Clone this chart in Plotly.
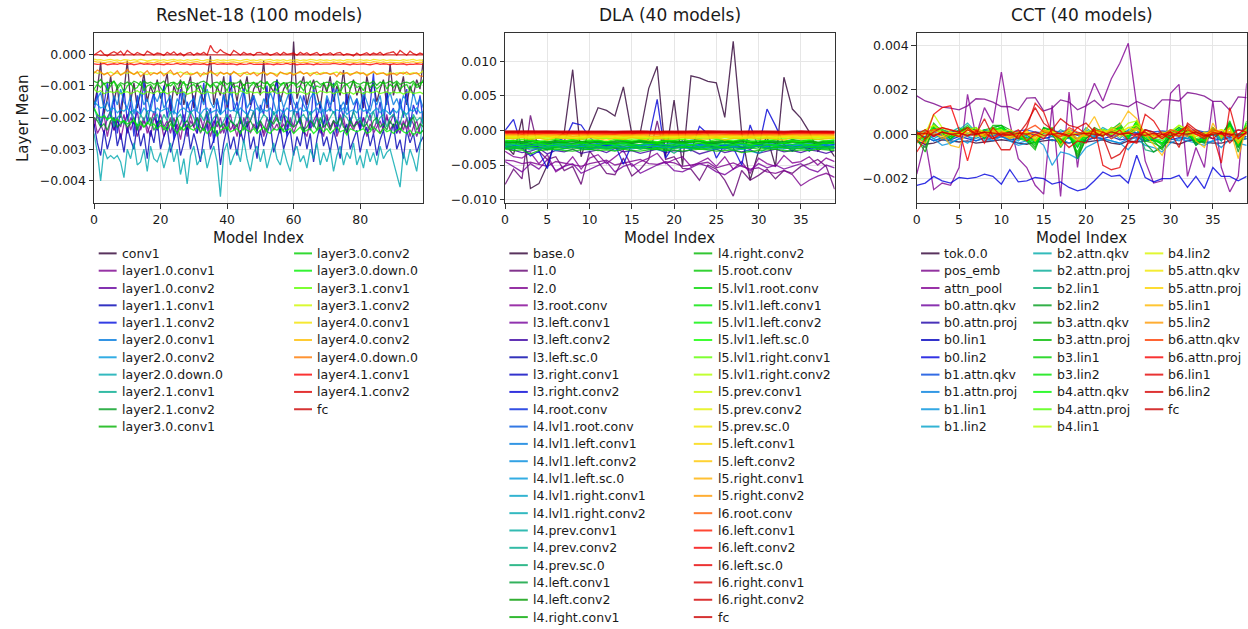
import plotly.graph_objects as go

SCALE = 1e-5  # all values below are in units of 1e-5

# ---------------- ResNet-18 (100 models) ----------------
resnet_names = ["conv1", "layer1.0.conv1", "layer1.0.conv2", "layer1.1.conv1", "layer1.1.conv2",
                "layer2.0.conv1", "layer2.0.conv2", "layer2.0.down.0", "layer2.1.conv1", "layer2.1.conv2",
                "layer3.0.conv1", "layer3.0.conv2", "layer3.0.down.0", "layer3.1.conv1", "layer3.1.conv2",
                "layer4.0.conv1", "layer4.0.conv2", "layer4.0.down.0", "layer4.1.conv1", "layer4.1.conv2", "fc"]

r_conv1 = [-160,-110,-25,-190,-140,-70,-150,-100,-200,-120,
           -20,-150,-90,-170,-120,-60,-150,-100,-130,-80,
           -140,-110,-60,-180,-100,-130,-80,-160,-110,-70,
           -170,-90,-120,-150,-80,-5,-160,-100,-130,-70,
           -170,-110,-90,-150,-80,-120,-70,-160,-110,-90,
           -130,-20,-170,-100,-120,-80,-150,-110,-90,-160,
           40,-140,-100,-70,-160,-110,-80,-130,-170,-90,
           -120,-70,-150,-100,-130,-50,-160,-110,-80,-130,
           -100,-170,-70,-120,-90,-150,-110,-80,-160,-30,
           -130,-90,-120,-70,-160,-100,-130,-80,-110,-15]
r_l1_0_c1 = [-200,-250,-230,-190,-260,-210,-240,-200,-270,-220,
             -190,-240,-210,-260,-230,-200,-250,-220,-180,-240,
             -210,-260,-230,-200,-250,-220,-270,-210,-240,-190,
             -230,-250,-200,-240,-210,-260,-220,-190,-250,-230,
             -200,-240,-220,-260,-210,-230,-190,-250,-220,-240,
             -210,-260,-230,-200,-240,-220,-250,-190,-230,-210,
             -250,-220,-200,-240,-260,-210,-230,-200,-250,-220,
             -190,-240,-210,-260,-230,-200,-250,-220,-240,-210,
             -230,-200,-260,-220,-240,-210,-250,-230,-190,-240,
             -220,-250,-210,-240,-200,-260,-230,-210,-250,-240]
r_l1_0_c2 = [-230,-190,-220,-250,-200,-180,-240,-210,-230,-190,
             -250,-200,-220,-180,-240,-210,-230,-260,-200,-220,
             -190,-230,-210,-250,-200,-240,-220,-190,-260,-210,
             -230,-200,-250,-220,-180,-240,-210,-230,-200,-250,
             -210,-190,-240,-220,-260,-200,-230,-210,-180,-240,
             -220,-250,-200,-230,-210,-190,-240,-220,-250,-200,
             -230,-180,-220,-250,-200,-240,-210,-190,-230,-260,
             -200,-230,-210,-240,-190,-220,-250,-200,-230,-210,
             -240,-200,-220,-190,-250,-230,-210,-240,-200,-220,
             -190,-230,-250,-210,-240,-200,-220,-260,-230,-180]
r_l1_1_c1 = [-220,-280,-320,-240,-300,-260,-200,-290,-250,-310,
             -230,-270,-300,-220,-290,-250,-330,-240,-280,-210,
             -300,-260,-230,-310,-270,-240,-320,-280,-220,-300,
             -250,-290,-340,-260,-220,-300,-270,-240,-350,-280,
             -230,-300,-260,-320,-240,-280,-210,-300,-260,-330,
             -240,-290,-250,-220,-310,-270,-230,-300,-260,-240,
             -320,-260,-290,-230,-300,-250,-340,-270,-220,-290,
             -260,-310,-240,-280,-330,-250,-220,-300,-270,-240,
             -310,-260,-230,-290,-250,-320,-270,-240,-300,-260,
             -220,-300,-270,-330,-240,-280,-250,-310,-280,-260]
r_l1_1_c2 = [-180,-120,-230,-160,-90,-200,-140,-250,-170,-110,
             -210,-150,-260,-130,-190,-80,-220,-160,-120,-240,
             -170,-100,-200,-140,-270,-180,-110,-230,-150,-190,
             -130,-250,-160,-90,-210,-170,-280,-140,-190,-120,
             -230,-60,-180,-150,-220,-110,-200,-170,-130,-250,
             -160,-190,-100,-230,-140,-80,-210,-170,-260,-120,
             -190,-150,-220,-130,-170,-240,-100,-200,-160,-230,
             -140,-180,-90,-250,-160,-200,-120,-220,-180,-140,
             -240,-130,-190,-160,-60,-210,-150,-230,-120,-190,
             -170,-250,-140,-200,-110,-230,-160,-190,-130,-220]
r_l2_0_c1 = [-160,-140,-120,-170,-150,-180,-130,-160,-110,-150,
             -170,-130,-190,-150,-120,-160,-140,-180,-130,-150,
             -120,-170,-150,-130,-190,-140,-160,-120,-170,-150,
             -140,-180,-130,-160,-110,-150,-170,-140,-190,-130,
             -160,-120,-150,-180,-140,-110,-170,-150,-130,-160,
             -180,-140,-160,-120,-150,-190,-130,-170,-140,-110,
             -150,-170,-130,-160,-180,-140,-120,-160,-150,-190,
             -130,-160,-140,-110,-170,-150,-180,-130,-160,-140,
             -170,-120,-150,-180,-140,-160,-130,-190,-150,-120,
             -160,-140,-170,-130,-150,-180,-120,-160,-140,-170]
r_l2_0_c2 = [-150,-160,-170,-165,-180,-175,-170,-185,-175,-180,
             -170,-185,-175,-180,-190,-170,-180,-175,-185,-170,
             -180,-175,-170,-185,-180,-190,-175,-170,-180,-185,
             -175,-180,-190,-175,-170,-185,-180,-175,-190,-180,
             -170,-180,-175,-185,-170,-180,-190,-175,-180,-170,
             -185,-175,-180,-170,-190,-180,-175,-185,-170,-180,
             -175,-185,-170,-180,-175,-190,-180,-170,-185,-175,
             -180,-170,-185,-175,-180,-170,-190,-180,-175,-185,
             -170,-180,-175,-190,-180,-170,-185,-175,-180,-190,
             -175,-185,-170,-180,-190,-175,-180,-170,-185,-180]
r_l2_0_d0 = [-250,-310,-400,-300,-330,-320,-330,-320,-340,-390,
             -300,-330,-280,-350,-340,-300,-370,-290,-330,-340,
             -310,-360,-320,-280,-340,-300,-380,-330,-410,-320,
             -290,-350,-330,-300,-360,-320,-290,-340,-450,-310,
             -280,-350,-320,-300,-340,-270,-330,-370,-310,-290,
             -340,-300,-360,-320,-280,-330,-350,-300,-340,-370,
             -310,-290,-340,-320,-360,-300,-330,-280,-350,-310,
             -340,-300,-370,-320,-290,-350,-310,-330,-280,-350,
             -320,-360,-300,-340,-310,-350,-290,-330,-310,-300,
             -340,-380,-420,-310,-350,-300,-330,-370,-290,-180]
r_l2_1_c1 = [-170,-200,-220,-190,-210,-180,-230,-200,-190,-220,
             -210,-180,-200,-230,-190,-210,-180,-220,-200,-190,
             -220,-190,-210,-180,-230,-200,-190,-220,-210,-180,
             -200,-230,-190,-210,-180,-220,-200,-190,-230,-210,
             -190,-210,-220,-180,-200,-230,-190,-210,-180,-220,
             -210,-190,-200,-230,-180,-210,-220,-190,-200,-230,
             -180,-220,-200,-190,-210,-180,-230,-200,-220,-190,
             -220,-200,-180,-210,-230,-190,-200,-220,-180,-210,
             -200,-230,-190,-210,-180,-220,-200,-190,-230,-200,
             -190,-210,-220,-180,-200,-230,-190,-210,-200,-220]
r_l2_1_c2 = [-200,-210,-230,-220,-240,-210,-200,-230,-220,-210,
             -230,-220,-200,-240,-210,-230,-220,-200,-240,-220,
             -210,-240,-220,-210,-230,-200,-240,-220,-210,-230,
             -220,-200,-230,-240,-210,-220,-250,-210,-230,-220,
             -240,-210,-220,-230,-200,-240,-220,-210,-230,-240,
             -210,-230,-240,-210,-220,-200,-230,-240,-210,-220,
             -230,-220,-200,-240,-230,-210,-220,-240,-200,-230,
             -220,-240,-210,-220,-200,-230,-240,-210,-230,-220,
             -210,-230,-220,-240,-210,-200,-230,-220,-240,-210,
             -230,-210,-240,-220,-230,-210,-200,-240,-220,-230]
r_l3_0_c1 = [-85,-90,-80,-95,-88,-92,-85,-100,-90,-95,
             -88,-95,-85,-90,-98,-85,-92,-88,-95,-90,
             -92,-85,-100,-90,-88,-95,-85,-92,-98,-88,
             -90,-95,-88,-85,-92,-100,-90,-88,-95,-85,
             -95,-88,-92,-90,-85,-98,-90,-92,-88,-95,
             -85,-92,-90,-98,-88,-85,-95,-90,-92,-88,
             -90,-95,-85,-92,-88,-100,-90,-85,-95,-92,
             -88,-90,-98,-85,-92,-90,-95,-88,-85,-92,
             -95,-88,-90,-92,-85,-98,-88,-92,-90,-85,
             -92,-85,-95,-90,-88,-92,-85,-98,-90,-88]
r_l3_0_c2 = [-110,-95,-105,-90,-115,-100,-85,-110,-95,-120,
             -100,-90,-110,-105,-85,-115,-100,-95,-110,-90,
             -105,-120,-95,-100,-90,-110,-105,-85,-115,-100,
             -95,-110,-100,-120,-90,-105,-95,-110,-85,-100,
             -115,-90,-105,-100,-110,-95,-120,-100,-90,-105,
             -100,-110,-85,-105,-95,-115,-100,-90,-110,-95,
             -90,-105,-100,-115,-95,-85,-110,-100,-105,-90,
             -110,-95,-105,-90,-120,-100,-95,-110,-85,-105,
             -100,-115,-90,-105,-95,-110,-100,-85,-110,-95,
             -105,-90,-110,-100,-95,-115,-90,-105,-100,-80]
r_l3_0_d0 = [-170,-190,-200,-195,-205,-200,-210,-205,-215,-210,
             -220,-215,-210,-225,-220,-230,-215,-225,-220,-235,
             -225,-230,-240,-220,-235,-250,-230,-240,-225,-235,
             -240,-230,-245,-235,-250,-240,-230,-260,-240,-235,
             -230,-245,-240,-235,-250,-230,-240,-245,-235,-250,
             -240,-230,-245,-250,-235,-240,-230,-245,-240,-235,
             -250,-240,-230,-245,-240,-235,-250,-240,-230,-245,
             -235,-250,-240,-230,-245,-240,-255,-235,-240,-245,
             -240,-235,-250,-245,-230,-240,-250,-235,-245,-240,
             -250,-240,-235,-245,-250,-240,-255,-245,-250,-240]
r_l3_1_c1 = [-110,-120,-115,-125,-120,-118,-122,-115,-125,-120,
             -118,-124,-120,-115,-122,-126,-118,-120,-124,-116,
             -122,-118,-125,-120,-116,-124,-120,-118,-126,-122,
             -120,-115,-122,-125,-118,-120,-124,-116,-120,-125,
             -118,-122,-120,-126,-115,-120,-124,-118,-122,-120,
             -125,-118,-122,-120,-116,-124,-120,-118,-125,-122,
             -120,-124,-118,-122,-126,-118,-120,-124,-116,-120,
             -122,-118,-125,-120,-118,-124,-122,-120,-126,-118,
             -120,-125,-118,-122,-120,-116,-124,-122,-118,-125,
             -118,-122,-120,-126,-120,-118,-124,-122,-120,-125]
r_l3_1_c2 = [-55,-60,-58,-63,-60,-56,-62,-59,-64,-58,
             -60,-57,-63,-59,-55,-61,-64,-58,-60,-62,
             -57,-62,-60,-58,-64,-59,-56,-61,-63,-60,
             -62,-58,-61,-65,-59,-57,-62,-60,-58,-63,
             -59,-63,-57,-60,-62,-58,-64,-61,-57,-60,
             -61,-58,-63,-59,-60,-64,-57,-62,-60,-58,
             -63,-60,-57,-62,-59,-61,-58,-64,-60,-57,
             -60,-62,-59,-56,-63,-60,-58,-62,-61,-59,
             -58,-61,-64,-60,-57,-62,-59,-60,-63,-58,
             -62,-59,-60,-57,-63,-61,-58,-62,-60,-52]
r_l4_0_c1 = [-15,-18,-17,-20,-18,-16,-19,-18,-21,-17,
             -18,-20,-17,-19,-16,-18,-21,-19,-17,-18,
             -19,-17,-20,-18,-16,-19,-18,-21,-17,-19,
             -18,-16,-19,-20,-17,-18,-20,-17,-19,-18,
             -20,-18,-17,-19,-21,-18,-16,-19,-18,-20,
             -17,-19,-18,-16,-20,-18,-19,-17,-21,-18,
             -19,-17,-20,-18,-19,-16,-18,-20,-17,-19,
             -18,-20,-17,-19,-18,-21,-17,-18,-20,-19,
             -17,-19,-18,-20,-16,-18,-19,-17,-20,-18,
             -19,-18,-20,-17,-19,-18,-16,-20,-18,-19]
r_l4_0_c2 = [-22,-25,-24,-27,-25,-23,-26,-24,-28,-25,
             -24,-27,-25,-23,-26,-28,-24,-25,-27,-23,
             -26,-24,-27,-25,-22,-26,-25,-28,-24,-26,
             -25,-23,-26,-28,-24,-25,-27,-24,-26,-25,
             -27,-25,-24,-26,-28,-25,-23,-26,-25,-27,
             -24,-26,-25,-23,-27,-25,-26,-24,-28,-25,
             -26,-24,-27,-25,-26,-23,-25,-27,-24,-26,
             -25,-27,-24,-26,-25,-28,-24,-25,-27,-26,
             -24,-26,-25,-27,-23,-25,-26,-24,-27,-25,
             -26,-25,-27,-24,-26,-25,-23,-27,-25,-26]
r_l4_0_d0 = [-60,-50,-55,-65,-58,-70,-62,-52,-66,-60,
             -48,-58,-64,-55,-70,-60,-52,-66,-58,-62,
             -55,-68,-60,-50,-64,-58,-72,-60,-55,-66,
             -62,-56,-70,-58,-64,-52,-60,-68,-56,-62,
             -58,-66,-54,-62,-70,-60,-56,-64,-58,-68,
             -60,-55,-66,-58,-62,-70,-56,-60,-64,-58,
             -66,-60,-54,-62,-58,-68,-60,-56,-64,-60,
             -58,-64,-60,-70,-56,-62,-58,-66,-60,-55,
             -62,-58,-68,-60,-54,-64,-60,-58,-66,-62,
             -60,-66,-58,-62,-56,-64,-60,-58,-68,-70]
r_l4_1_c1 = [-30,-32,-31,-29,-33,-31,-30,-32,-29,-31,
             -32,-30,-33,-31,-29,-32,-30,-31,-33,-30,
             -31,-33,-30,-32,-31,-29,-32,-30,-31,-33,
             -30,-31,-32,-30,-33,-31,-29,-32,-31,-30,
             -32,-30,-31,-33,-30,-32,-31,-29,-32,-31,
             -31,-32,-30,-31,-33,-30,-32,-31,-29,-32,
             -30,-33,-31,-32,-30,-31,-33,-30,-32,-31,
             -32,-31,-29,-31,-32,-30,-31,-33,-30,-32,
             -31,-30,-32,-33,-31,-29,-32,-30,-31,-33,
             -30,-32,-31,-30,-33,-31,-32,-30,-31,-32]
r_l4_1_c2 = [-2,5,12,0,-5,3,8,2,10,-3,
             12,4,-2,6,0,-4,10,5,-2,4,
             2,-4,6,0,8,-2,4,-5,3,6,
             -3,4,0,6,-2,28,10,4,15,6,
             2,-3,12,4,-2,6,0,3,-4,5,
             6,0,4,-3,2,5,-2,6,0,3,
             4,-3,6,0,5,-2,3,6,-4,2,
             0,5,-2,4,6,-3,2,0,-5,4,
             -3,2,5,-2,4,0,6,-2,3,5,
             8,-2,12,4,-3,10,2,-2,4,0]
r_fc = [-2,-1,-3,-2,-1,-2,-3,-1,-2,-2,
        -1,-3,-2,-2,-1,-3,-2,-1,-2,-3,
        -2,-1,-2,-3,-1,-2,-2,-3,-1,-2,
        -3,-2,-1,-2,-3,-2,-1,-2,-2,-1,
        -2,-3,-1,-2,-2,-1,-3,-2,-1,-2,
        -1,-2,-3,-1,-2,-3,-2,-1,-2,-2,
        -3,-1,-2,-2,-3,-1,-2,-3,-2,-1,
        -2,-2,-1,-3,-2,-1,-2,-2,-3,-1,
        -1,-3,-2,-1,-2,-2,-3,-1,-2,-3,
        -2,-1,-3,-2,-1,-2,-2,-1,-3,-2]
resnet_series = [r_conv1, r_l1_0_c1, r_l1_0_c2, r_l1_1_c1, r_l1_1_c2, r_l2_0_c1, r_l2_0_c2, r_l2_0_d0,
                 r_l2_1_c1, r_l2_1_c2, r_l3_0_c1, r_l3_0_c2, r_l3_0_d0, r_l3_1_c1, r_l3_1_c2,
                 r_l4_0_c1, r_l4_0_c2, r_l4_0_d0, r_l4_1_c1, r_l4_1_c2, r_fc]

# ---------------- DLA (40 models) ----------------
dla_names = ["base.0", "l1.0", "l2.0", "l3.root.conv", "l3.left.conv1", "l3.left.conv2", "l3.left.sc.0",
             "l3.right.conv1", "l3.right.conv2", "l4.root.conv", "l4.lvl1.root.conv", "l4.lvl1.left.conv1",
             "l4.lvl1.left.conv2", "l4.lvl1.left.sc.0", "l4.lvl1.right.conv1", "l4.lvl1.right.conv2",
             "l4.prev.conv1", "l4.prev.conv2", "l4.prev.sc.0", "l4.left.conv1", "l4.left.conv2",
             "l4.right.conv1", "l4.right.conv2", "l5.root.conv", "l5.lvl1.root.conv", "l5.lvl1.left.conv1",
             "l5.lvl1.left.conv2", "l5.lvl1.left.sc.0", "l5.lvl1.right.conv1", "l5.lvl1.right.conv2",
             "l5.prev.conv1", "l5.prev.conv2", "l5.prev.sc.0", "l5.left.conv1", "l5.left.conv2",
             "l5.right.conv1", "l5.right.conv2", "l6.root.conv", "l6.left.conv1", "l6.left.conv2",
             "l6.left.sc.0", "l6.right.conv1", "l6.right.conv2", "fc"]

d_base0 = [-200,-350,170,-840,-770,-500,-120,-30,880,-380, 30,330,290,210,630,-50,-30,610,930,-370,
           440,-510,790,760,710,690,190,1290,-40,-720, -300,-90,-520,770,310,180,-20,-300,-200,-380]
d_l1_0 = [-780,-560,-700,220,-300,-420,-380,-580,-520,-780, -300,-450,-620,-640,-400,-660,-560,-420,140,-420,
          -380,-550,-560,-720,-500,-560,-720,-950,-580,-720, -650,-560,-700,-580,-620,-520,-480,-420,-520,-850]
d_l2_0 = [-430,-440,-480,-460,-490,-520,-450,-470,-500,-520, -480,-460,-430,-500,-470,-450,-420,-480,-490,-450,
          -470,-520,-500,-480,-460,-540,-500,-470,-520,-560, -540,-600,-620,-580,-640,-800,-720,-660,-620,-680]
d_l3_root = [-300,-380,-400,-320,-480,-350,-600,-520,-380,-560, -400,-350,-480,-380,-290,-520,-450,-400,-330,-480,
             -420,-380,-520,-460,-400,-520,-380,-560,-450,-620, -400,-480,-520,-360,-470,-450,-380,-500,-400,-450]
d_l3_left_c1 = [-450,-520,-600,-480,-560,-420,-580,-520,-480,-620, -560,-500,-450,-600,-520,-480,-620,-560,-500,-460,
                -580,-600,-540,-480,-520,-600,-640,-560,-500,-580, -480,-540,-500,-560,-520,-480,-560,-600,-500,-540]
d_l3_left_c2 = [-250,-280,-320,-300,-260,-340,-290,-310,-270,-330, -300,-280,-320,-260,-310,-290,-330,-300,-270,-320,
                -290,-310,-280,-340,-300,-270,-320,-290,-310,-280, -330,-300,-270,-310,-290,-320,-280,-300,-330,-290]
d_l3_left_sc0 = [-220,-240,-260,-230,-250,-270,-240,-220,-250,-230, -260,-240,-220,-250,-270,-230,-240,-260,-220,-250,
                 -240,-230,-260,-250,-220,-240,-270,-230,-250,-240, -220,-260,-240,-230,-250,-220,-260,-240,-230,-250]
d_l3_right_c1 = [-180,-220,-250,-200,-240,-280,-210,-190,-230,-260, -200,-240,-220,-190,-260,-230,-210,-250,-190,-220,
                 -240,-200,-260,-230,-210,-250,-220,-190,-240,-270, -210,-230,-200,-250,-220,-240,-260,-210,-230,-200]
d_l3_right_c2 = [0,160,-250,-370,-300,-550,-100,-150,110,80, -100,-200,-200,-200,-490,-200,-250,-120,450,-400,
                 -200,-150,-300,60,-50,-400,-200,-250,-500,80, -250,310,70,-200,-300,-200,-300,-200,-200,-250]
d_l4_root = [-200,-180,-220,-210,-190,-230,-200,-180,-210,-220, -190,-200,-230,-210,-180,-220,-200,-190,-210,-230,
             -200,-180,-220,-210,-190,-200,-230,-210,-180,-220, -200,-210,-190,-230,-200,-180,-220,-210,-190,-200]
d_l4_lvl1_root = [-210,-230,-200,-220,-240,-210,-190,-230,-220,-200, -240,-210,-220,-200,-230,-210,-240,-200,-220,-210,
                  -230,-200,-240,-210,-220,-230,-200,-210,-240,-220, -200,-230,-210,-220,-240,-200,-210,-230,-220,-210]
d_l4_lvl1_left_c1 = [-230,-250,-220,-240,-260,-230,-210,-250,-240,-220, -260,-230,-240,-220,-250,-230,-260,-220,-240,-230,
                     -250,-220,-260,-230,-240,-250,-220,-230,-260,-240, -220,-250,-230,-240,-260,-220,-230,-250,-240,-230]
d_l4_lvl1_left_c2 = [-190,-210,-200,-180,-220,-200,-190,-210,-180,-200, -220,-190,-200,-210,-180,-200,-220,-190,-210,-200,
                     -180,-210,-190,-220,-200,-180,-210,-200,-190,-220, -200,-180,-210,-190,-200,-220,-190,-210,-200,-180]
d_l4_lvl1_left_sc0 = [-240,-260,-230,-250,-270,-240,-220,-260,-250,-230, -270,-240,-250,-230,-260,-240,-270,-230,-250,-240,
                      -260,-230,-270,-240,-250,-260,-230,-240,-270,-250, -230,-260,-240,-250,-270,-230,-240,-260,-250,-240]
d_l4_lvl1_right_c1 = [-220,-200,-240,-230,-210,-250,-220,-200,-230,-240, -210,-220,-250,-230,-200,-240,-220,-210,-230,-250,
                      -220,-200,-240,-230,-210,-220,-250,-230,-200,-240, -220,-230,-210,-250,-220,-200,-240,-230,-210,-220]
d_l4_lvl1_right_c2 = [-250,-270,-240,-280,-260,-250,-290,-260,-240,-270, -280,-250,-260,-290,-250,-270,-240,-260,-280,-300,
                      -260,-250,-270,-240,-280,-260,-250,-290,-270,-300, -330,-260,-250,-270,-240,-260,-280,-250,-270,-260]
d_l4_prev_c1 = [-190,-170,-200,-180,-210,-190,-170,-200,-190,-180, -210,-190,-170,-200,-180,-190,-210,-170,-190,-200,
                -180,-170,-210,-190,-200,-180,-170,-190,-210,-200, -180,-190,-170,-200,-210,-180,-190,-200,-170,-190]
d_l4_prev_c2 = [-170,-160,-180,-150,-170,-190,-160,-170,-150,-180, -170,-160,-190,-170,-150,-180,-160,-170,-190,-150,
                -170,-180,-160,-150,-190,-170,-160,-180,-150,-170, -190,-160,-170,-180,-150,-170,-160,-190,-170,-160]
d_l4_prev_sc0 = [-240,-260,-250,-230,-270,-250,-240,-260,-230,-250, -270,-240,-260,-250,-230,-260,-240,-270,-250,-260,
                 -330,-250,-240,-260,-230,-270,-250,-240,-260,-250, -230,-260,-250,-240,-270,-250,-230,-260,-240,-250]
d_l4_left_c1 = [-160,-150,-170,-140,-160,-180,-150,-160,-140,-170, -160,-150,-180,-160,-140,-170,-150,-160,-180,-140,
                -160,-170,-150,-140,-180,-160,-150,-170,-140,-160, -180,-150,-160,-170,-140,-160,-150,-180,-160,-150]
d_l4_left_c2 = [-180,-170,-190,-160,-180,-200,-170,-180,-160,-190, -180,-170,-200,-180,-160,-190,-170,-180,-200,-160,
                -180,-190,-170,-160,-200,-180,-170,-190,-160,-180, -200,-170,-180,-190,-160,-180,-170,-200,-180,-170]
d_l4_right_c1 = [-150,-140,-160,-130,-150,-170,-140,-150,-130,-160, -150,-140,-170,-150,-130,-160,-140,-150,-170,-130,
                 -150,-160,-140,-130,-170,-150,-140,-160,-130,-150, -170,-140,-150,-160,-130,-150,-140,-170,-150,-140]
d_l4_right_c2 = [-170,-180,-160,-190,-170,-160,-180,-170,-190,-160, -180,-170,-160,-190,-180,-170,-160,-180,-190,-170,
                 -160,-180,-170,-190,-160,-180,-170,-160,-190,-180, -170,-160,-180,-190,-170,-180,-160,-170,-190,-180]
d_l5_root = [-270,-290,-280,-340,-290,-280,-270,-290,-300,-280, -270,-290,-280,-300,-270,-290,-300,-280,-270,-290,
             -280,-300,-290,-270,-280,-300,-290,-280,-320,-300, -290,-280,-270,-290,-300,-280,-290,-270,-280,-290]
d_l5_lvl1_root = [-260,-250,-270,-260,-240,-270,-250,-260,-270,-250, -240,-260,-270,-250,-260,-240,-270,-260,-250,-270,
                  -260,-240,-250,-270,-260,-250,-240,-270,-260,-250, -270,-260,-240,-250,-270,-260,-250,-240,-260,-270]
d_l5_lvl1_left_c1 = [-220,-230,-240,-220,-210,-240,-230,-220,-240,-210, -230,-220,-240,-230,-210,-220,-240,-230,-210,-240,
                     -220,-230,-210,-240,-220,-230,-240,-210,-230,-220, -240,-210,-230,-220,-240,-230,-210,-220,-240,-230]
d_l5_lvl1_left_c2 = [-200,-190,-210,-200,-180,-210,-200,-190,-210,-180, -200,-210,-190,-200,-180,-210,-200,-190,-180,-210,
                     -200,-190,-210,-180,-200,-210,-190,-200,-180,-210, -190,-200,-210,-180,-200,-190,-210,-200,-180,-190]
d_l5_lvl1_left_sc0 = [-140,-150,-130,-140,-160,-140,-130,-150,-140,-130, -150,-140,-160,-130,-140,-150,-130,-140,-160,-150,
                      -140,-130,-150,-140,-160,-130,-140,-150,-130,-160, -140,-150,-130,-140,-150,-160,-140,-130,-150,-140]
d_l5_lvl1_right_c1 = [-120,-110,-130,-120,-110,-130,-120,-110,-125,-115, -130,-120,-110,-125,-120,-130,-110,-120,-125,-115,
                      -120,-130,-110,-120,-125,-115,-130,-120,-110,-125, -120,-115,-130,-120,-110,-125,-120,-130,-115,-120]
d_l5_lvl1_right_c2 = [-105,-110,-100,-115,-105,-110,-100,-110,-115,-105, -100,-110,-105,-115,-110,-100,-105,-115,-110,-100,
                      -110,-105,-115,-100,-110,-105,-100,-115,-110,-105, -115,-100,-110,-105,-115,-110,-100,-105,-110,-115]
d_l5_prev_c1 = [-100,-95,-105,-100,-90,-105,-100,-95,-110,-100, -95,-105,-100,-90,-105,-100,-95,-105,-110,-100,
                -95,-100,-105,-90,-100,-105,-95,-100,-110,-105, -100,-95,-105,-100,-90,-105,-100,-95,-105,-100]
d_l5_prev_c2 = [-90,-95,-100,-90,-95,-85,-100,-95,-90,-100, -95,-90,-85,-100,-95,-90,-100,-95,-85,-90,
                -100,-95,-90,-85,-100,-95,-90,-100,-95,-85, -90,-100,-95,-90,-85,-100,-95,-90,-100,-95]
d_l5_prev_sc0 = [-85,-90,-80,-95,-85,-90,-80,-85,-95,-90, -80,-85,-90,-95,-85,-80,-90,-85,-95,-80,
                 -85,-90,-80,-95,-85,-90,-85,-80,-95,-90, -85,-80,-90,-95,-85,-90,-80,-85,-90,-95]
d_l5_left_c1 = [-80,-75,-85,-80,-70,-85,-80,-75,-90,-80, -75,-85,-80,-70,-85,-80,-75,-85,-90,-80,
                -75,-80,-85,-70,-80,-85,-75,-80,-90,-85, -80,-75,-85,-80,-70,-85,-80,-75,-85,-80]
d_l5_left_c2 = [-110,-120,-100,-130,-110,-140,-100,-120,-110,-130, -100,-120,-140,-110,-130,-100,-120,-140,-110,-130,
                -120,-100,-110,-130,-120,-100,-140,-110,-120,-100, -130,-110,-120,-140,-100,-120,-110,-130,-120,-110]
d_l5_right_c1 = [-70,-65,-75,-70,-60,-75,-70,-65,-80,-70, -65,-75,-70,-60,-75,-70,-65,-75,-80,-70,
                 -65,-70,-75,-60,-70,-75,-65,-70,-80,-75, -70,-65,-75,-70,-60,-75,-70,-65,-75,-70]
d_l5_right_c2 = [-60,-58,-63,-57,-62,-55,-60,-64,-58,-61, -63,-56,-60,-65,-58,-62,-55,-60,-64,-58,
                 -60,-65,-57,-62,-56,-60,-63,-58,-65,-60, -56,-62,-60,-65,-58,-55,-62,-60,-57,-63]
d_l6_root = [-50,-45,-55,-48,-52,-45,-50,-55,-47,-50, -53,-46,-50,-55,-48,-52,-45,-50,-54,-48,
             -50,-55,-47,-52,-45,-50,-53,-48,-55,-50, -46,-52,-50,-55,-48,-45,-52,-50,-47,-53]
d_l6_left_c1 = [-40,-35,-45,-38,-42,-36,-40,-44,-37,-41, -43,-36,-40,-45,-38,-42,-35,-40,-44,-38,
                -40,-45,-37,-42,-36,-40,-43,-38,-45,-40, -36,-42,-40,-45,-38,-35,-42,-40,-37,-43]
d_l6_left_c2 = [-30,-28,-33,-29,-31,-27,-30,-34,-28,-31, -33,-27,-30,-34,-29,-32,-26,-30,-33,-28,
                -30,-34,-28,-31,-27,-30,-33,-29,-34,-30, -27,-32,-30,-34,-28,-26,-32,-30,-28,-33]
d_l6_left_sc0 = [-20,-18,-23,-19,-21,-17,-20,-24,-18,-21, -23,-17,-20,-24,-19,-22,-16,-20,-23,-18,
                 -20,-24,-18,-21,-17,-20,-23,-19,-24,-20, -17,-22,-20,-24,-18,-16,-22,-20,-18,-23]
d_l6_right_c1 = [-25,-22,-28,-24,-26,-21,-25,-29,-23,-26, -28,-22,-25,-29,-24,-27,-21,-25,-28,-23,
                 -25,-29,-23,-26,-22,-25,-28,-24,-29,-25, -22,-27,-25,-29,-23,-21,-27,-25,-23,-28]
d_l6_right_c2 = [-10,-8,-13,-9,-11,-7,-10,-14,-8,-11, -13,-7,-10,-14,-9,-12,-6,-10,-13,-8,
                 -10,-14,-8,-11,-7,-10,-13,-9,-14,-10, -7,-12,-10,-14,-8,-6,-12,-10,-8,-13]
d_fc = [-15,-12,-18,-14,-16,-11,-15,-19,-13,-16, -18,-12,-15,-19,-14,-17,-11,-15,-18,-13,
        -15,-19,-13,-16,-12,-15,-18,-14,-19,-15, -12,-17,-15,-19,-13,-11,-17,-15,-13,-18]
dla_series = [d_base0, d_l1_0, d_l2_0, d_l3_root, d_l3_left_c1, d_l3_left_c2, d_l3_left_sc0, d_l3_right_c1,
              d_l3_right_c2, d_l4_root, d_l4_lvl1_root, d_l4_lvl1_left_c1, d_l4_lvl1_left_c2, d_l4_lvl1_left_sc0,
              d_l4_lvl1_right_c1, d_l4_lvl1_right_c2, d_l4_prev_c1, d_l4_prev_c2, d_l4_prev_sc0, d_l4_left_c1,
              d_l4_left_c2, d_l4_right_c1, d_l4_right_c2, d_l5_root, d_l5_lvl1_root, d_l5_lvl1_left_c1,
              d_l5_lvl1_left_c2, d_l5_lvl1_left_sc0, d_l5_lvl1_right_c1, d_l5_lvl1_right_c2, d_l5_prev_c1,
              d_l5_prev_c2, d_l5_prev_sc0, d_l5_left_c1, d_l5_left_c2, d_l5_right_c1, d_l5_right_c2,
              d_l6_root, d_l6_left_c1, d_l6_left_c2, d_l6_left_sc0, d_l6_right_c1, d_l6_right_c2, d_fc]

# ---------------- CCT (40 models) ----------------
cct_names = ["tok.0.0", "pos_emb", "attn_pool", "b0.attn.qkv", "b0.attn.proj", "b0.lin1", "b0.lin2",
             "b1.attn.qkv", "b1.attn.proj", "b1.lin1", "b1.lin2", "b2.attn.qkv", "b2.attn.proj", "b2.lin1",
             "b2.lin2", "b3.attn.qkv", "b3.attn.proj", "b3.lin1", "b3.lin2", "b4.attn.qkv", "b4.attn.proj",
             "b4.lin1", "b4.lin2", "b5.attn.qkv", "b5.attn.proj", "b5.lin1", "b5.lin2", "b6.attn.qkv",
             "b6.attn.proj", "b6.lin1", "b6.lin2", "fc"]

c_tok = [-30,-45,-40,-25,-30,-35,-30,-40,-35,-30, -25,-30,-40,-45,-35,-30,-25,-35,-40,-30,
         -35,-30,-25,-40,-45,-30,-35,-30,-25,-40, -35,-45,-30,-25,-35,-40,-40,-30,-25,-20]
c_pos = [173,150,138,122,118,110,128,160,158,145, 125,124,108,163,165,105,118,155,145,110,
         128,153,118,138,132,124,148,130,115,155, 155,150,188,182,172,148,148,108,168,165]
c_pool = [-180,-30,-250,-220,-230,-150,180,-10,120,50, 280,50,-110,-150,-230,-270,130,-280,190,-150,
          130,230,150,250,320,410,130,-120,-220,-210, 185,225,-190,-60,-150,150,-150,-260,-190,230]
c_b0_qkv = [10,0,-10,5,15,0,-5,10,0,-10, 5,0,10,-5,0,15,5,-10,0,5,
            10,-5,0,10,5,-10,0,5,-5,10, 0,-10,5,0,10,-5,0,5,-10,0]
c_b0_proj = [5,10,0,-5,10,5,0,-5,10,0, -5,5,10,0,-5,5,10,0,5,-5,
             0,10,5,-5,0,10,5,0,-5,10, 5,0,-5,10,5,0,10,-5,0,5]
c_b0_lin1 = [-20,-10,-30,-15,-25,-10,-20,-30,-15,-20, -10,-25,-20,-15,-30,-20,-10,-25,-15,-20,
             -30,-15,-20,-10,-25,-20,-15,-30,-20,-10, -25,-15,-20,-30,-10,-20,-25,-15,-20,-10]
c_b0_lin2 = [-230,-220,-190,-210,-220,-195,-200,-195,-180,-190, -225,-160,-215,-210,-195,-200,-225,-215,-240,-255,
             -245,-210,-170,-190,-185,-220,-95,-195,-215,-200, -200,-185,-240,-190,-245,-150,-190,-190,-210,-190]
c_b1_qkv = [10,15,5,20,10,15,5,10,20,15, 5,10,15,20,10,5,15,10,20,5,
            10,15,20,5,10,15,5,20,10,15, 10,5,15,20,10,15,5,10,20,15]
c_b1_proj = [-20,-10,-30,-20,-40,-20,-10,-30,-20,-30, -10,-20,-40,-30,-20,-10,-30,-20,-40,-20,
             -30,-10,-20,-30,-40,-20,-10,-30,-20,-40, -20,-30,-10,-20,-40,-30,-20,-10,-30,-20]
c_b1_lin1 = [10,0,-20,-50,-40,-20,-40,-10,-30,-20, -10,-30,-50,-40,-20,-50,-140,-80,-90,-110,
             -60,-40,-20,-30,-40,-70,-20,-50,-60,-80, -40,-20,-30,-40,-50,-30,-60,-20,-40,-50]
c_b1_lin2 = [-10,10,-20,0,-30,10,-10,-20,0,-10, 20,-10,-30,0,-20,10,-10,0,-20,-30,
             0,-10,10,-20,0,-30,-10,10,-20,-40, 0,-10,-20,10,-30,0,-20,-10,0,-20]
c_b2_qkv = [0,-20,30,10,-10,20,50,10,-20,30, 40,0,-20,-10,-40,20,0,-30,10,-60,
            20,0,30,10,-20,20,40,-10,-30,-20, 10,30,-10,-40,-20,20,-30,50,-10,20]
c_b2_proj = [-10,20,0,-20,10,30,0,20,-10,0, 30,-20,10,0,-30,10,-10,20,0,-40,
             10,-20,20,0,30,-10,20,-30,-10,0, 20,-10,10,-50,-20,0,-30,40,-20,10]
c_b2_lin1 = [20,-30,40,10,-20,10,30,-10,20,0, 20,10,-20,0,-30,20,0,-40,10,-20,
             30,0,-10,20,10,-20,30,-70,-80,-50, -10,20,0,-40,-10,30,-20,30,-60,20]
c_b2_lin2 = [-30,-60,30,0,-20,10,20,0,-10,20, 30,10,-10,0,-40,30,10,-40,10,-110,
             -20,10,20,0,40,-10,50,-40,-80,-60, -10,20,10,-50,-20,10,-10,40,-80,40]
c_b3_qkv = [-20,-80,40,20,0,-10,30,20,-10,30, 40,20,-10,-20,-60,20,0,-50,20,-100,
            -20,20,0,10,30,0,60,-20,-30,-70, 0,30,10,-40,-30,20,0,50,-60,30]
c_b3_proj = [-10,-40,50,10,-10,0,20,30,-20,40, 40,0,-20,-30,-70,30,20,-60,0,-90,
             -10,30,10,20,50,-10,40,-30,-40,-60, -20,20,30,-30,-40,10,-10,60,-40,50]
c_b3_lin1 = [0,-30,20,10,-20,10,40,0,20,30, 10,-10,0,-20,-50,10,30,-40,-10,-80,
             0,20,-10,30,20,-20,50,-10,-20,-50, 10,0,20,-30,-20,30,-10,40,-50,20]
c_b3_lin2 = [10,-20,30,0,-10,20,30,10,-10,20, 30,0,-10,-30,-40,10,20,-30,0,-60,
             10,0,20,10,30,0,40,-20,-30,-40, 0,20,10,-20,-30,20,0,30,-40,30]
c_b4_qkv = [0,-30,20,10,0,10,30,0,-10,20, 30,10,0,-20,-30,10,0,-40,10,-50,
            0,20,10,0,30,-10,60,-10,-20,-40, 0,20,0,-30,-20,10,-10,40,-50,60]
c_b4_proj = [-10,-20,40,20,0,10,20,10,0,30, 20,0,-10,-20,-30,20,10,-30,0,-40,
             10,0,20,10,20,0,50,0,-20,-30, 10,40,20,-20,-10,20,0,30,-30,40]
c_b4_lin1 = [-20,0,90,30,10,0,20,30,10,20, 10,0,-10,0,-20,10,20,-20,0,-30,
             10,20,0,30,10,50,60,0,-10,-20, 10,40,20,-10,0,20,-10,30,-40,30]
c_b4_lin2 = [0,20,40,10,0,-10,20,10,0,10, 20,-10,0,10,-20,0,10,-10,20,-20,
             0,10,20,0,10,30,40,10,-10,0, 20,10,0,-10,10,0,20,10,-30,20]
c_b5_qkv = [10,0,20,10,0,10,0,20,10,0, 10,20,0,10,0,-10,10,0,20,0,
            10,0,10,20,0,30,20,10,0,-10, 10,0,20,10,0,10,20,0,-20,10]
c_b5_proj = [0,10,0,-10,10,0,10,-10,0,10, 0,-10,10,0,-10,10,0,-10,10,0,
             -10,10,0,10,-10,0,20,0,-10,10, 0,-10,10,0,-10,10,0,10,-20,0]
c_b5_lin1 = [-20,-40,20,0,-50,-60,30,10,-10,20, 0,-20,-10,20,-30,20,10,-50,0,-30,
             20,80,0,20,40,105,70,0,-50,-95, -20,10,40,-30,-60,50,-20,30,-110,40]
c_b5_lin2 = [-10,0,10,-20,0,-10,20,0,-10,10, 0,-20,10,0,-10,20,0,-10,10,-20,
             0,10,-10,20,0,10,30,-10,0,-20, 10,0,-10,20,-10,30,0,10,-40,10]
c_b6_qkv = [-40,10,20,30,20,10,-10,20,0,-20, 10,0,-10,20,40,10,0,-10,30,10,
            0,20,10,-20,0,10,-10,20,0,-10, 20,10,30,0,-10,20,10,0,-20,10]
c_b6_proj = [-80,-20,90,120,128,20,-120,20,-40,30, -10,0,20,-30,0,-20,20,0,-10,30,
             0,-20,10,-10,20,-30,0,10,-20,0, 10,-10,20,0,-20,10,0,-10,20,10]
c_b6_lin1 = [0,20,-10,10,0,-10,20,0,10,-20, 0,10,-20,30,140,100,0,-20,-60,-30,
             -40,30,-140,-160,-150,-30,-40,90,60,0, -20,10,40,10,-10,0,-130,120,-20,10]
c_b6_lin2 = [10,-20,10,30,20,10,30,0,70,-10, -70,-70,0,50,120,50,20,70,40,30,
             50,10,-10,-110,-90,-40,-30,20,10,-20, 10,-60,50,20,0,-20,10,-40,0,30]
c_fc = [0,5,-5,10,0,5,-5,0,10,5, 0,-5,5,0,10,-5,0,5,-5,0,
        5,0,-5,10,0,5,0,-5,5,0, -5,5,0,10,-5,0,5,0,-5,5]
cct_series = [c_tok, c_pos, c_pool, c_b0_qkv, c_b0_proj, c_b0_lin1, c_b0_lin2, c_b1_qkv, c_b1_proj,
              c_b1_lin1, c_b1_lin2, c_b2_qkv, c_b2_proj, c_b2_lin1, c_b2_lin2, c_b3_qkv, c_b3_proj,
              c_b3_lin1, c_b3_lin2, c_b4_qkv, c_b4_proj, c_b4_lin1, c_b4_lin2, c_b5_qkv, c_b5_proj,
              c_b5_lin1, c_b5_lin2, c_b6_qkv, c_b6_proj, c_b6_lin1, c_b6_lin2, c_fc]

titles = ["ResNet-18 (100 models)", "DLA (40 models)", "CCT (40 models)"]
x_ticks = [[0, 20, 40, 60, 80], [0, 5, 10, 15, 20, 25, 30, 35], [0, 5, 10, 15, 20, 25, 30, 35]]
y_ticks = [[-0.004, -0.003, -0.002, -0.001, 0.0], [-0.010, -0.005, 0.0, 0.005, 0.010],
           [-0.002, 0.0, 0.002, 0.004]]

# ---------------- style ----------------
W, H = 1248, 629
FONT = "DejaVu Sans"
_SEG = {
    "r": [(0.0, 0.0), (0.05, 0.4667), (0.10, 0.5333), (0.15, 0.0), (0.20, 0.0), (0.25, 0.0), (0.30, 0.0),
          (0.35, 0.0), (0.40, 0.0), (0.45, 0.0), (0.50, 0.0), (0.55, 0.0), (0.60, 0.0), (0.65, 0.7333),
          (0.70, 0.9333), (0.75, 1.0), (0.80, 1.0), (0.85, 1.0), (0.90, 0.8667), (0.95, 0.80), (1.0, 0.80)],
    "g": [(0.0, 0.0), (0.05, 0.0), (0.10, 0.0), (0.15, 0.0), (0.20, 0.0), (0.25, 0.4667), (0.30, 0.6),
          (0.35, 0.6667), (0.40, 0.6667), (0.45, 0.6), (0.50, 0.7333), (0.55, 0.8667), (0.60, 1.0),
          (0.65, 1.0), (0.70, 0.9333), (0.75, 0.8), (0.80, 0.6), (0.85, 0.0), (0.90, 0.0), (0.95, 0.0), (1.0, 0.8)],
    "b": [(0.0, 0.0), (0.05, 0.5333), (0.10, 0.6), (0.15, 0.6667), (0.20, 0.8667), (0.25, 0.8667),
          (0.30, 0.8667), (0.35, 0.6667), (0.40, 0.5333), (0.45, 0.0), (0.50, 0.0), (0.55, 0.0), (0.60, 0.0),
          (0.65, 0.0), (0.70, 0.0), (0.75, 0.0), (0.80, 0.0), (0.85, 0.0), (0.90, 0.0), (0.95, 0.0), (1.0, 0.8)],
}


def _interp(pts, t):
    for (x0, y0), (x1, y1) in zip(pts[:-1], pts[1:]):
        if x0 <= t <= x1:
            return y0 + (y1 - y0) * (t - x0) / (x1 - x0)
    return pts[-1][1]


def cmap(t, alpha=0.8):
    r, g, b = (_interp(_SEG[c], t) for c in "rgb")
    return f"rgba({round(r*255)},{round(g*255)},{round(b*255)},{alpha})"


def colors_for(n):
    return [cmap(0.02 + i * (0.93 / (n - 1))) for i in range(n)]


panels = [
    dict(names=resnet_names, series=resnet_series, px=(90.3, 420.7), xr=[0, 99], yr=[-0.0047, 0.00067],
         cols=[(95, 113, 116), (291, 309, 312)]),
    dict(names=dla_names, series=dla_series, px=(502.7, 833.3), xr=[0, 39], yr=[-0.0105, 0.0141],
         cols=[(507, 525.5, 529), (692, 710.5, 714)]),
    dict(names=cct_names, series=cct_series, px=(915.7, 1246.7), xr=[0, 39], yr=[-0.0031, 0.00456],
         cols=[(920, 938.5, 941.5), (1032.5, 1051, 1054), (1144.5, 1163, 1166)]),
]
PLOT_TOP, PLOT_BOT = 33.3, 204.3
LEG_Y0, LEG_DY = 255.0, 17.43

fig = go.Figure()
layout = dict(width=W, height=H, margin=dict(l=0, r=0, t=0, b=0), paper_bgcolor="white",
              plot_bgcolor="white", showlegend=False, font=dict(family=FONT, color="#1a1a1a"))
shapes, annotations = [], []

for i, p in enumerate(panels):
    sfx = "" if i == 0 else str(i + 1)
    cols = colors_for(len(p["names"]))
    for name, vals, col in zip(p["names"], p["series"], cols):
        fig.add_trace(go.Scatter(x=list(range(len(vals))), y=[v * SCALE for v in vals], mode="lines",
                                 name=name, line=dict(color=col, width=1.3),
                                 xaxis="x" + sfx, yaxis="y" + sfx, hoverinfo="skip"))
    axis_common = dict(showline=True, mirror=True, linecolor="#333333", linewidth=1, ticks="outside",
                       ticklen=4.5, tickwidth=1, tickcolor="#333333", showgrid=True, gridcolor="#e6e6e6",
                       gridwidth=1, zeroline=False, tickfont=dict(family=FONT, size=12.5, color="#1a1a1a"))
    layout["xaxis" + sfx] = dict(domain=[p["px"][0] / W, p["px"][1] / W], anchor="y" + sfx, range=p["xr"],
                                 tickmode="array", tickvals=x_ticks[i], **axis_common)
    layout["yaxis" + sfx] = dict(domain=[1 - PLOT_BOT / H, 1 - PLOT_TOP / H], anchor="x" + sfx, range=p["yr"],
                                 tickmode="array", tickvals=y_ticks[i], tickformat=".3f", **axis_common)
    cx = (p["px"][0] + p["px"][1]) / 2 / W
    annotations.append(dict(text=titles[i], x=cx, y=1 - 15.5 / H, xref="paper", yref="paper",
                            showarrow=False, xanchor="center", yanchor="middle",
                            font=dict(family=FONT, size=17, color="#1a1a1a")))
    annotations.append(dict(text="Model Index", x=cx, y=1 - 240 / H, xref="paper", yref="paper",
                            showarrow=False, xanchor="center", yanchor="middle",
                            font=dict(family=FONT, size=15, color="#1a1a1a")))
    # legend (columns filled top-to-bottom)
    n = len(p["names"])
    ncol = len(p["cols"])
    per_col = -(-n // ncol)
    for k, (name, col) in enumerate(zip(p["names"], cols)):
        c, r = divmod(k, per_col)
        hx0, hx1, tx = p["cols"][c]
        yy = 1 - (LEG_Y0 + r * LEG_DY) / H
        shapes.append(dict(type="line", xref="paper", yref="paper", x0=hx0 / W, x1=hx1 / W, y0=yy, y1=yy,
                           line=dict(color=col, width=2)))
        annotations.append(dict(text=name, x=tx / W, y=yy, xref="paper", yref="paper", showarrow=False,
                                xanchor="left", yanchor="middle",
                                font=dict(family=FONT, size=12.5, color="#1a1a1a")))

annotations.append(dict(text="Layer Mean", x=19 / W, y=1 - (PLOT_TOP + PLOT_BOT) / 2 / H, xref="paper",
                        yref="paper", showarrow=False, textangle=-90, xanchor="center", yanchor="middle",
                        font=dict(family=FONT, size=15, color="#1a1a1a")))
layout["shapes"] = shapes
layout["annotations"] = annotations
fig.update_layout(**layout)
fig.write_html("out.html", config={"displayModeBar": False},
               post_script="document.body.style.margin='0';document.body.style.overflow='hidden';")
